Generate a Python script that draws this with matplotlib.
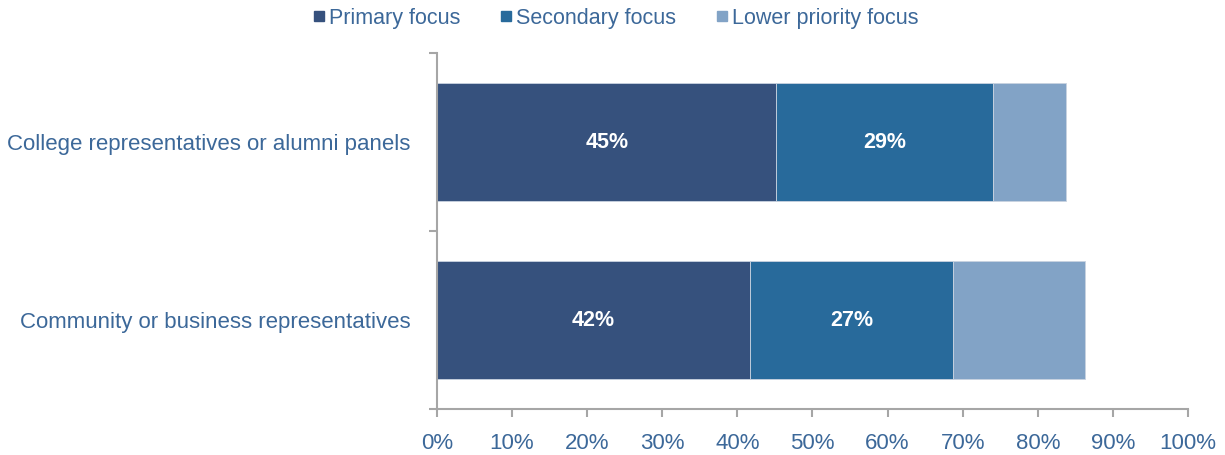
import matplotlib
matplotlib.use("Agg")
import matplotlib.pyplot as plt
from matplotlib.lines import Line2D
from matplotlib.ticker import FixedLocator, PercentFormatter

plt.rcParams["font.family"] = ["Liberation Sans", "DejaVu Sans"]

categories = ["College representatives or alumni panels",
              "Community or business representatives"]
series = ["Primary focus", "Secondary focus", "Lower priority focus"]
primary = [45.2, 41.7]
secondary = [28.8, 27.0]
lower = [9.7, 17.6]
labelled = [True, True, False]  # only the first two segments carry value labels

colors = ["#36517d", "#286a9b", "#82a3c6"]
text_color = "#3c6899"
spine_color = "#a6a6a6"

fig = plt.figure(figsize=(12.25, 4.55), dpi=100)
ax = fig.add_axes([0.3567, 0.1011, 0.6131, 0.7824])

ypos = list(range(len(categories)))
left = [0.0] * len(categories)
for vals, name, color, show in zip([primary, secondary, lower], series, colors, labelled):
    bars = ax.barh(ypos, vals, left=left, height=0.66, color=color,
                   edgecolor="#c9d3e0", linewidth=0.6, label=name)
    if show:
        ax.bar_label(bars, labels=[f"{v:.0f}%" for v in vals], label_type="center",
                     color="white", fontsize=15.5, fontweight="bold")
    left = [l + v for l, v in zip(left, vals)]

ax.set_xlim(0, 100)
ax.set_ylim(1.5, -0.5)
ax.xaxis.set_major_locator(FixedLocator(range(0, 101, 10)))
ax.xaxis.set_major_formatter(PercentFormatter(decimals=0))
ax.set_yticks(ypos, categories)
ax.yaxis.set_minor_locator(FixedLocator([-0.5, 0.5, 1.5]))

ax.tick_params(axis="x", colors=spine_color, labelcolor=text_color, labelsize=16,
               length=6, width=1.5, pad=11)
ax.tick_params(axis="y", which="major", length=0, labelcolor=text_color,
               labelsize=16, pad=19)
ax.tick_params(axis="y", which="minor", colors=spine_color, length=6, width=1.5)

for side in ("top", "right"):
    ax.spines[side].set_visible(False)
for side in ("left", "bottom"):
    ax.spines[side].set_color(spine_color)
    ax.spines[side].set_linewidth(1.5)

handles = [Line2D([], [], marker="s", linestyle="none", markersize=6.5,
                  markerfacecolor=c, markeredgecolor=c) for c in colors]
leg = fig.legend(handles, series, loc="upper center", bbox_to_anchor=(0.503, 1.025),
                 ncol=3, frameon=False, fontsize=15.5, handlelength=0.5,
                 handletextpad=0.2, columnspacing=1.9)
for t in leg.get_texts():
    t.set_color(text_color)

fig.savefig("out.png", dpi=100)
